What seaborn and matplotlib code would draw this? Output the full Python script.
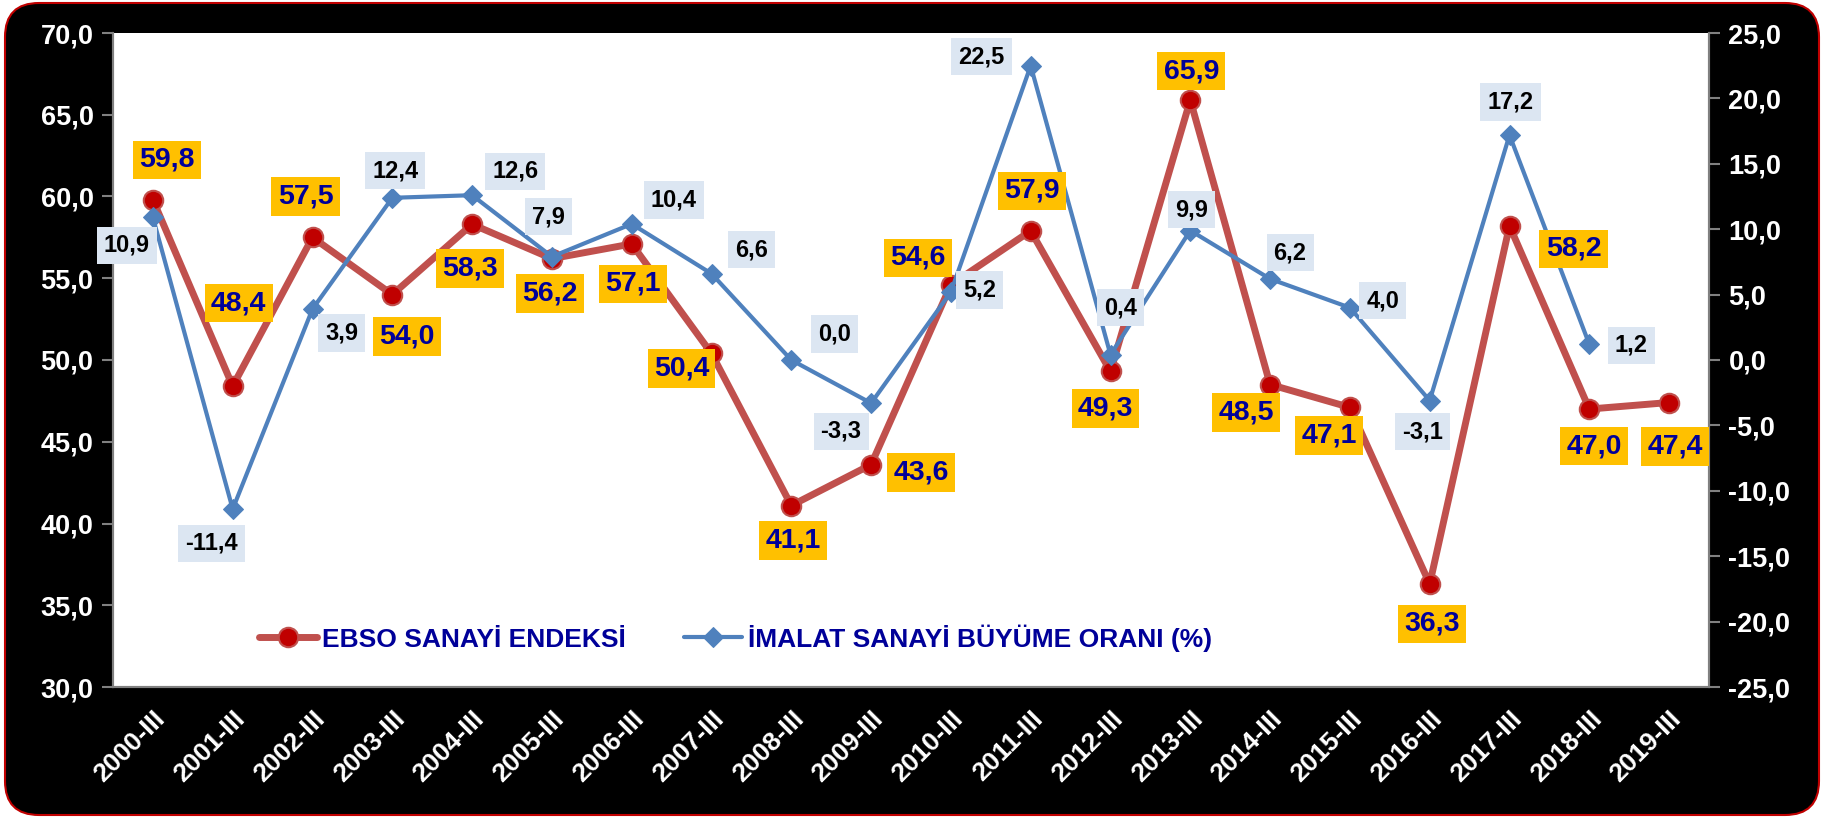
import matplotlib
matplotlib.use('Agg')
import matplotlib.pyplot as plt
from matplotlib.patches import FancyBboxPatch
from matplotlib.transforms import IdentityTransform
from matplotlib.ticker import FuncFormatter, FixedLocator
import numpy as np
import pandas as pd
import seaborn as sns

# data
periods = ['2000-III', '2001-III', '2002-III', '2003-III', '2004-III', '2005-III', '2006-III',
           '2007-III', '2008-III', '2009-III', '2010-III', '2011-III', '2012-III', '2013-III',
           '2014-III', '2015-III', '2016-III', '2017-III', '2018-III', '2019-III']
ebso_index = [59.8, 48.4, 57.5, 54.0, 58.3, 56.2, 57.1, 50.4, 41.1, 43.6,
              54.6, 57.9, 49.3, 65.9, 48.5, 47.1, 36.3, 58.2, 47.0, 47.4]
imalat_growth = [10.9, -11.4, 3.9, 12.4, 12.6, 7.9, 10.4, 6.6, 0.0, -3.3,
                 5.2, 22.5, 0.4, 9.9, 6.2, 4.0, -3.1, 17.2, 1.2, np.nan]

# label offsets (pixels) so the boxes sit like in the original
red_offsets = [(14, 40), (6, 83), (-7, 41), (15, -42), (-2, -44), (-2, -35), (1, -40),
               (-30, -15), (2, -35), (50, -8), (-33, 27), (1, 40), (-5, -37), (1, 29),
               (-24, -28), (-21, -28), (2, -40), (64, -23), (5, -37), (6, -44)]
blue_offsets = [(-26, -28), (-21, -34), (29, -24), (3, 27), (43, 24), (-3, 40), (42, 24),
                (40, 24), (43, 26), (-30, -28), (29, 2), (-49, 9), (10, 47), (1, 21),
                (20, 26), (33, 7), (-7, -31), (1, 33), (42, -1), (0, 0)]

RED_LINE = '#C0504D'
RED_MARK = '#C00000'
BLUE = '#4F81BD'
NAVY = '#000099'


def comma(v, pos=None):
    return f'{v:.1f}'.replace('.', ',')


def main():
    sns.set_style('white')
    plt.rcParams['font.family'] = ['Liberation Sans', 'DejaVu Sans']
    plt.rcParams['font.weight'] = 'bold'

    df = pd.DataFrame({'x': np.arange(len(periods)), 'ebso': ebso_index, 'imalat': imalat_growth})

    fig = plt.figure(figsize=(18.25, 8.18), dpi=100, facecolor='white')
    # black rounded frame with red edge, behind everything
    frame = FancyBboxPatch((5, 3), 1814, 812, boxstyle='round,pad=0,rounding_size=34',
                           facecolor='black', edgecolor='#C00000', linewidth=1.5,
                           transform=IdentityTransform(), zorder=-10)
    fig.patches.append(frame)

    ax = fig.add_axes([113 / 1825, 1 - 687 / 818, 1596 / 1825, 654 / 818])
    ax.set_facecolor('white')
    ax2 = ax.twinx()

    sns.lineplot(data=df, x='x', y='ebso', ax=ax, color=RED_LINE, linewidth=5,
                 marker='o', markersize=14, markerfacecolor=RED_MARK,
                 markeredgecolor=RED_LINE, markeredgewidth=1.5,
                 estimator=None, label='EBSO SANAYİ ENDEKSİ', legend=False)
    sns.lineplot(data=df.dropna(), x='x', y='imalat', ax=ax2, color=BLUE, linewidth=3,
                 marker='D', markersize=10.5, markerfacecolor=BLUE, markeredgecolor=BLUE,
                 estimator=None, label='İMALAT SANAYİ BÜYÜME ORANI (%)', legend=False)

    ax.set_xlim(-0.5, len(periods) - 0.5)
    ax.set_ylim(30, 70)
    ax2.set_ylim(-25, 25)
    ax.set_yticks(np.arange(30, 71, 5))
    ax2.set_yticks(np.arange(-25, 26, 5))
    ax.yaxis.set_major_formatter(FuncFormatter(comma))
    ax2.yaxis.set_major_formatter(FuncFormatter(comma))

    ax.set_xticks(np.arange(len(periods)))
    ax.set_xticklabels(periods, rotation=45, ha='right', rotation_mode='anchor')
    ax.xaxis.set_minor_locator(FixedLocator(np.arange(-0.5, len(periods), 1)))
    ax.tick_params(axis='x', which='major', length=0, pad=14, labelsize=19, labelcolor='white')
    ax.tick_params(axis='x', which='minor', length=8, width=1.5, color='#808080', direction='out')
    ax.tick_params(axis='y', length=8, width=1.5, color='#808080', direction='out',
                   labelsize=19.5, labelcolor='white', pad=6)
    ax2.tick_params(axis='y', length=8, width=1.5, color='#808080', direction='out',
                    labelsize=19.5, labelcolor='white', pad=6)
    ax.set_xlabel('')
    ax.set_ylabel('')
    ax2.set_ylabel('')

    for a in (ax, ax2):
        for side in ('left', 'right', 'bottom'):
            a.spines[side].set_color('#808080')
            a.spines[side].set_linewidth(1.5)
        a.spines['top'].set_visible(False)

    # data labels
    for i, v in enumerate(ebso_index):
        dx, dy = red_offsets[i]
        ax2.annotate(comma(v), xy=(i, v), xycoords=ax.transData, xytext=(dx, dy),
                     textcoords='offset pixels', ha='center', va='center',
                     fontsize=20.5, fontweight='bold', color=NAVY, zorder=6,
                     bbox=dict(boxstyle='square,pad=0.22', facecolor='#FFC000', edgecolor='none'))
    for i, v in enumerate(imalat_growth):
        if np.isnan(v):
            continue
        dx, dy = blue_offsets[i]
        ax2.annotate(comma(v), xy=(i, v), xytext=(dx, dy),
                     textcoords='offset pixels', ha='center', va='center',
                     fontsize=17, fontweight='bold', color='black', zorder=6,
                     bbox=dict(boxstyle='square,pad=0.3', facecolor='#DCE6F2', edgecolor='none'))

    h1, l1 = ax.get_legend_handles_labels()
    h2, l2 = ax2.get_legend_handles_labels()
    leg = ax2.legend(h1 + h2, l1 + l2, loc='center', bbox_to_anchor=(0.39, 0.075), ncol=2,
                     frameon=False, fontsize=19, handlelength=2.2, columnspacing=2.2,
                     handletextpad=0.2)
    for t in leg.get_texts():
        t.set_color(NAVY)
        t.set_fontweight('bold')

    fig.savefig('out.png', dpi=100, facecolor='white')


if __name__ == '__main__':
    main()
